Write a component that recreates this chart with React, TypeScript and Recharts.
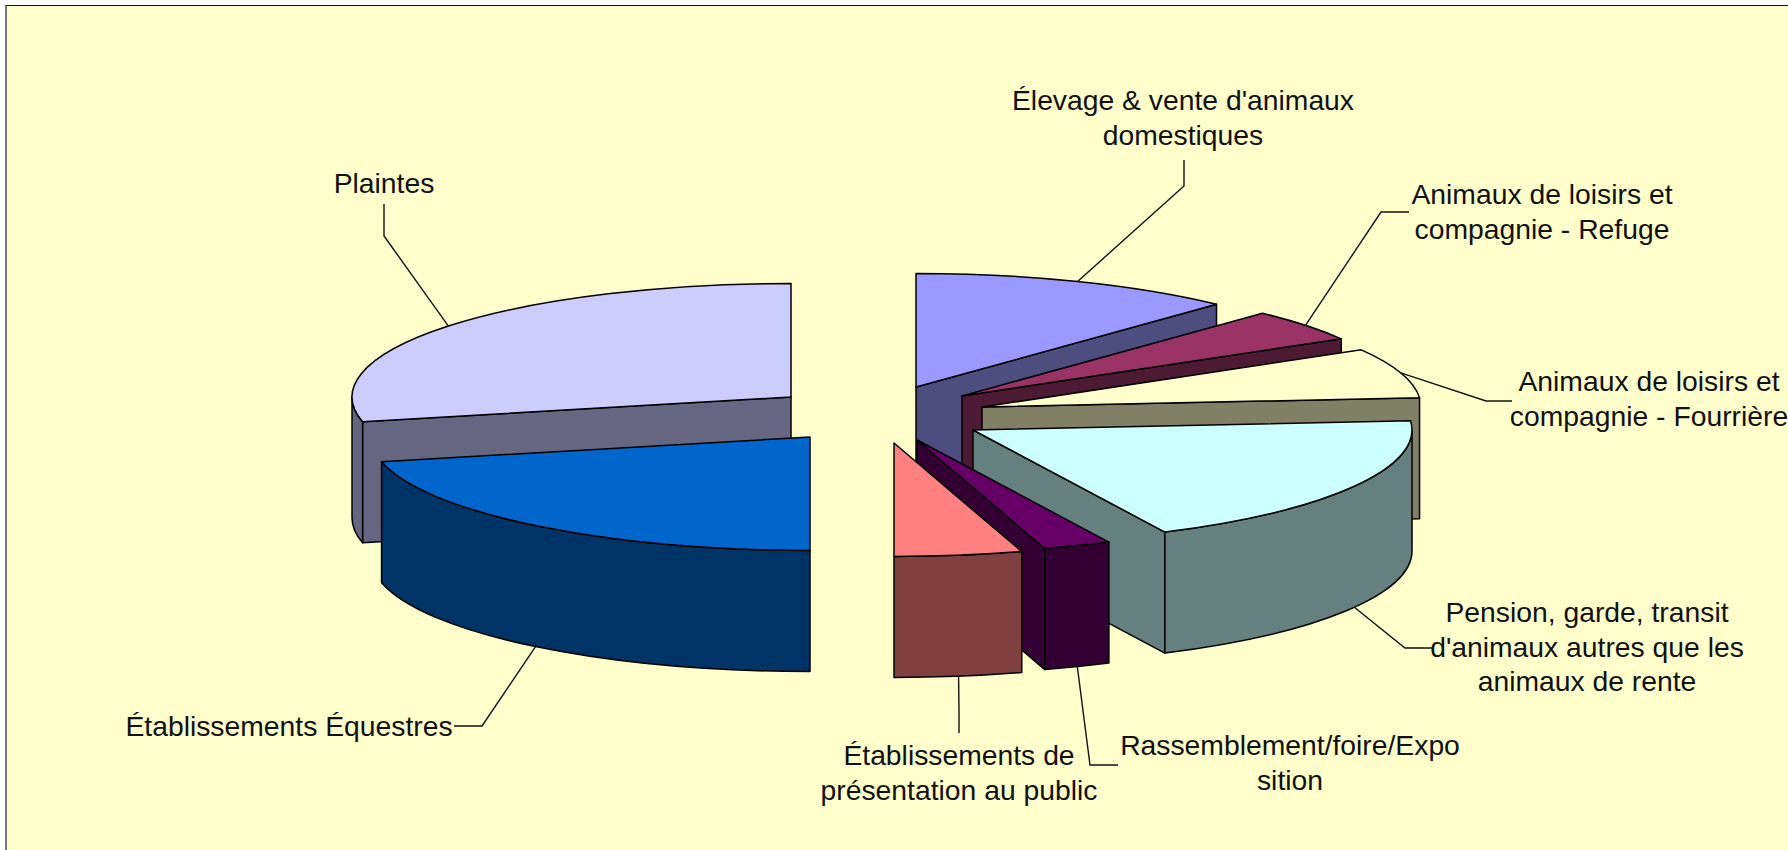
import React from 'react';
import { PieChart, Pie } from 'recharts';

const WIDTH = 1782;
const HEIGHT = 844;

// slices, listed from the back of the pie (Plaintes first) so that the painting order works
const categories = [
  ['Plaintes'],
  ["Élevage & vente d'animaux", 'domestiques'],
  ['Animaux de loisirs et', 'compagnie - Refuge'],
  ['Animaux de loisirs et', 'compagnie - Fourrière'],
  ['Pension, garde, transit', "d'animaux autres que les", 'animaux de rente'],
  ['Rassemblement/foire/Expo', 'sition'],
  ['Établissements de', 'présentation au public'],
  ['Établissements Équestres'],
];
const shares = [28.5, 12.0, 4.6, 7.1, 19.1, 2.5, 4.7, 21.5];

const topColors = ['#CCCCFF', '#9999FF', '#993366', '#FFFFCC', '#CCFFFF', '#660066', '#FF8080', '#0066CC'];
const wallColors = ['#666680', '#4D4D80', '#4D1A33', '#808066', '#668080', '#330033', '#804040', '#003366'];

// how far each slice is pulled out of the pie, in px
const explodeX = [-103, 22, 68, 88, 79, 23, 0, -84];
const explodeY = [-29, -39, -30, -19, 4, 14, 17, 11];

// elbow and end of each leader line, then the label anchor
const leaderPoints = [
  [[377, 230], [377, 198]],
  [[1177, 180], [1177, 154]],
  [[1374, 206], [1402, 206]],
  [[1479, 395], [1505, 395]],
  [[1398, 642], [1425, 642]],
  [[1083, 759], [1111, 759]],
  [[952, 705], [952, 727]],
  [[475, 720], [447, 720]],
];
const labelX = [377, 1176, 1535, 1642, 1580, 1283, 952, 282];
const labelY = [177, 94, 188, 375, 606, 739, 749, 720];

const RATIO = 0.2585;
const DEPTH = 121;
const LINE_HEIGHT = 34.5;
const FONT = '"Liberation Sans", Arial, sans-serif';

const data = categories.map((lines, i) => ({ name: lines.join(' '), value: shares[i], slice: i }));

const rad = (deg: number) => (deg * Math.PI) / 180;

// recharts gives maths angles, the pie is easier to think of clockwise from the top
const fromTop = (angle: number) => {
  let t = (90 - angle) % 360;
  if (t < 0) t += 360;
  return t > 359.9 ? t - 360 : t;
};

const rimPoint = (x: number, y: number, r: number, t: number) => [
  x + r * Math.sin(rad(t)),
  y - r * RATIO * Math.cos(rad(t)),
];

const SliceShape = (props: any) => {
  const slice = props.slice ?? props.payload?.slice ?? props.index;
  const x = props.cx + explodeX[slice];
  const y = props.cy + explodeY[slice];
  const r = props.outerRadius;
  const ry = r * RATIO;
  const t0 = fromTop(props.startAngle);
  let t1 = fromTop(props.endAngle);
  if (t1 <= t0) t1 += 360;

  const [ax, ay] = rimPoint(x, y, r, t0);
  const [bx, by] = rimPoint(x, y, r, t1);
  const top = `M${x},${y} L${ax},${ay} A${r},${ry} 0 ${t1 - t0 > 180 ? 1 : 0} 1 ${bx},${by} Z`;

  const stroke = { stroke: '#000', strokeWidth: 1.5, strokeLinejoin: 'round' as const };
  const walls: React.ReactNode[] = [];

  if (t0 > 180.1 && t0 < 359.9) {
    walls.push(
      <path key="start" d={`M${x},${y} L${ax},${ay} V${ay + DEPTH} L${x},${y + DEPTH} Z`} fill={wallColors[slice]} {...stroke} />
    );
  }
  if (t1 > 0.1 && t1 < 179.9) {
    walls.push(
      <path key="end" d={`M${x},${y} L${bx},${by} V${by + DEPTH} L${x},${y + DEPTH} Z`} fill={wallColors[slice]} {...stroke} />
    );
  }
  const from = Math.max(t0, 90);
  const to = Math.min(t1, 270);
  if (from < to) {
    const [fx, fy] = rimPoint(x, y, r, from);
    const [tx, ty] = rimPoint(x, y, r, to);
    walls.push(
      <path
        key="outer"
        d={`M${fx},${fy} A${r},${ry} 0 0 1 ${tx},${ty} V${ty + DEPTH} A${r},${ry} 0 0 0 ${fx},${fy + DEPTH} Z`}
        fill={wallColors[slice]}
        {...stroke}
      />
    );
  }

  return (
    <g>
      {walls}
      <path d={top} fill={topColors[slice]} {...stroke} />
    </g>
  );
};

const SliceLabel = (props: any) => {
  const slice = props.slice ?? props.payload?.slice ?? props.index;
  const t = fromTop(props.midAngle);
  const [sx, sy] = rimPoint(props.cx + explodeX[slice], props.cy + explodeY[slice], props.outerRadius, t);
  const startY = t > 90 && t < 270 ? sy + DEPTH : sy;
  const pts = [[sx, startY], ...leaderPoints[slice]].map((p) => p.join(',')).join(' ');
  return (
    <g>
      <polyline points={pts} fill="none" stroke="#111" strokeWidth={1.4} />
      <text x={labelX[slice]} y={labelY[slice]} textAnchor="middle" fontFamily={FONT} fontSize={28.3} fill="#111">
        {categories[slice].map((line, i) => (
          <tspan key={i} x={labelX[slice]} y={labelY[slice] + i * LINE_HEIGHT} dominantBaseline="central">
            {line}
          </tspan>
        ))}
      </text>
    </g>
  );
};

export default function App() {
  return (
    <div
      style={{
        position: 'absolute',
        left: 5,
        top: 5,
        width: WIDTH,
        height: HEIGHT,
        background: '#FFFFCC',
        borderLeft: '2px solid #777',
        borderTop: '1px solid #111',
        overflow: 'hidden',
      }}
    >
      <PieChart width={WIDTH} height={HEIGHT} margin={{ top: 0, right: 0, bottom: 0, left: 0 }}>
        <Pie
          data={data}
          dataKey="value"
          nameKey="name"
          cx={887}
          cy={420}
          innerRadius={0}
          outerRadius={439}
          startAngle={-167.4}
          endAngle={-527.4}
          paddingAngle={0}
          stroke="none"
          shape={SliceShape}
          label={SliceLabel}
          labelLine={false}
          isAnimationActive={false}
        />
      </PieChart>
    </div>
  );
}
